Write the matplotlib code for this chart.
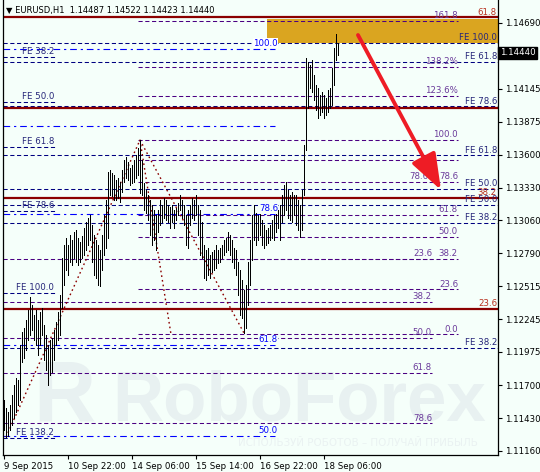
import matplotlib
matplotlib.use("Agg")
import matplotlib.pyplot as plt
from matplotlib.transforms import blended_transform_factory
from matplotlib.patches import Rectangle

# H1 bars, 9 Sep 2015 14:00 onwards (high / low)
highs = [1.11577, 1.11511, 1.11478, 1.11536, 1.11618, 1.11701, 1.11758, 1.11742, 1.12031, 1.12138,
         1.12171, 1.12237, 1.12319, 1.12427, 1.12361, 1.12278, 1.12319, 1.12237, 1.12303, 1.12336,
         1.12196, 1.12113, 1.12031, 1.12072, 1.12088, 1.12154, 1.12220, 1.12303, 1.12443, 1.12748,
         1.12856, 1.12913, 1.12856, 1.12938, 1.12897, 1.12963, 1.12979, 1.12913, 1.12880, 1.12930,
         1.12996, 1.13045, 1.13078, 1.13103, 1.13021, 1.12938, 1.12897, 1.12856, 1.12814, 1.12938,
         1.13103, 1.13227, 1.13458, 1.13474, 1.13450, 1.13433, 1.13392, 1.13408, 1.13375, 1.13474,
         1.13557, 1.13582, 1.13540, 1.13491, 1.13516, 1.13557, 1.13598, 1.13656, 1.13722, 1.13557,
         1.13367, 1.13309, 1.13268, 1.13227, 1.13186, 1.13144, 1.13103, 1.13144, 1.13227, 1.13186,
         1.13243, 1.13227, 1.13186, 1.13169, 1.13186, 1.13144, 1.13161, 1.13202, 1.13268, 1.13227,
         1.13186, 1.13103, 1.13144, 1.13186, 1.13243, 1.13227, 1.13268, 1.13186, 1.13144, 1.13045,
         1.12856, 1.12814, 1.12831, 1.12773, 1.12798, 1.12814, 1.12856, 1.12814, 1.12831, 1.12856,
         1.12897, 1.12913, 1.12963, 1.12938, 1.12897, 1.12831, 1.12814, 1.12715, 1.12649, 1.12567,
         1.12484, 1.12526, 1.12715, 1.12897, 1.13103, 1.13186, 1.13120, 1.13103, 1.13128, 1.13062,
         1.13021, 1.12979, 1.12996, 1.13021, 1.13062, 1.13103, 1.13128, 1.13144, 1.13186, 1.13268,
         1.13351, 1.13375, 1.13309, 1.13268, 1.13293, 1.13268, 1.13268, 1.13227, 1.13186, 1.13309,
         1.13681, 1.14398, 1.14365, 1.14341, 1.14382, 1.14258, 1.14176, 1.14151, 1.14093, 1.14118,
         1.14093, 1.14068, 1.14134, 1.14151, 1.14316, 1.14481, 1.14597, 1.14522]
lows = [1.11329, 1.11272, 1.11280, 1.11329, 1.11371, 1.11428, 1.11478, 1.11536, 1.11577, 1.11890,
        1.11923, 1.11989, 1.12072, 1.12113, 1.12154, 1.12072, 1.12031, 1.11948, 1.12031, 1.12113,
        1.11907, 1.11824, 1.11701, 1.11783, 1.11808, 1.11907, 1.12031, 1.12072, 1.12113, 1.12336,
        1.12526, 1.12649, 1.12608, 1.12715, 1.12691, 1.12748, 1.12715, 1.12691, 1.12715, 1.12748,
        1.12773, 1.12814, 1.12856, 1.12897, 1.12715, 1.12608, 1.12583, 1.12526, 1.12517, 1.12649,
        1.12773, 1.12831, 1.12913, 1.13268, 1.13260, 1.13227, 1.13227, 1.13243, 1.13210, 1.13293,
        1.13375, 1.13408, 1.13392, 1.13351, 1.13367, 1.13375, 1.13408, 1.13433, 1.13285, 1.13268,
        1.13144, 1.13120, 1.13062, 1.12938, 1.12856, 1.12897, 1.12814, 1.12963, 1.13021, 1.13045,
        1.13078, 1.13062, 1.13045, 1.12996, 1.13045, 1.12996, 1.13062, 1.13103, 1.13144, 1.13078,
        1.13021, 1.12856, 1.12831, 1.13021, 1.13078, 1.13062, 1.13103, 1.12938, 1.12773, 1.12748,
        1.12583, 1.12567, 1.12608, 1.12583, 1.12633, 1.12649, 1.12666, 1.12707, 1.12715, 1.12748,
        1.12773, 1.12798, 1.12814, 1.12773, 1.12715, 1.12666, 1.12608, 1.12443, 1.12278, 1.12253,
        1.12130, 1.12171, 1.12361, 1.12526, 1.12732, 1.12897, 1.12856, 1.12897, 1.12938, 1.12856,
        1.12831, 1.12856, 1.12872, 1.12897, 1.12913, 1.12897, 1.12963, 1.12996, 1.12897, 1.13045,
        1.13103, 1.13144, 1.13078, 1.13062, 1.13045, 1.13103, 1.13021, 1.12979, 1.12922, 1.12979,
        1.13268, 1.13639, 1.13986, 1.14151, 1.14118, 1.14052, 1.13969, 1.13903, 1.13928, 1.13953,
        1.13903, 1.13928, 1.13953, 1.13986, 1.14011, 1.14176, 1.14382, 1.14423]

title_text = "EURUSD,H1  1.14487 1.14522 1.14423 1.14440"
last_price = 1.14440

x_tick_labels = ["9 Sep 2015", "10 Sep 22:00", "14 Sep 06:00", "15 Sep 14:00",
                 "16 Sep 22:00", "18 Sep 06:00"]
y_ticks = [1.14690, 1.14145, 1.13875, 1.13600, 1.13330, 1.13060, 1.12790,
           1.12515, 1.12245, 1.11975, 1.11700, 1.11430, 1.11160]

# fibonacci objects drawn on the chart
fe_left_labels = ["FE 38.2", "FE 50.0", "FE 61.8", "FE 78.6", "FE 100.0", "FE 138.2"]
fe_left_prices = [1.14410, 1.14034, 1.13665, 1.13137, 1.12461, 1.11265]

fe_right_labels = ["FE 100.0", "FE 61.8", "FE 78.6", "FE 61.8", "FE 50.0", "FE 50.0", "FE 38.2", "FE 38.2"]
fe_right_prices = [1.14520, 1.14363, 1.13999, 1.13596, 1.13316, 1.13187, 1.13041, 1.12007]

red_labels = ["61.8", "", "38.2", "23.6"]
red_prices = [1.14733, 1.13987, 1.13247, 1.12331]

purple_labels = ["161.8", "138.2%", "123.6%", "100.0", "", "78.6", "61.8", "50.0", "38.2", "23.6", "0.0"]
purple_prices = [1.14706, 1.14327, 1.14088, 1.13723, 1.13558, 1.13379, 1.13104, 1.12920, 1.12739, 1.12491, 1.12120]

lower_labels = ["23.6", "38.2", "50.0", "61.8", "78.6"]
lower_prices = [1.12741, 1.12387, 1.12090, 1.11804, 1.11386]

blue_labels = ["100.0", "", "78.6", "61.8", "50.0"]
blue_prices = [1.14476, 1.13838, 1.13112, 1.12032, 1.11281]

target_zone = (1.14520, 1.14718)

BG = "#F5FFFA"
NAVY = "#000080"
PURPLE = "#4B0082"
PURPLE_TXT = "#6A3A9A"
BLUE = "#0000FF"
DARKRED = "#8B0000"
FS = 6.2

plt.rcParams["font.family"] = ["DejaVu Sans"]

fig = plt.figure(figsize=(5.4, 4.72), dpi=100, facecolor=BG)
ax = fig.add_axes([3 / 540, 17 / 472, 495 / 540, 455 / 472], facecolor=BG)
ax.set_xlim(-0.5, 247.0)
ax.set_ylim(1.11125, 1.14877)

# watermark
WM = "#E8F1F1"
ax.text(54, 1.11413, "RoboForex", family="Liberation Sans", weight="bold", fontsize=51,
        color=WM, ha="left", va="baseline", zorder=0.5)
ax.text(14.5, 1.11413, "R", family="Liberation Sans", weight="bold", fontsize=62,
        color=WM, ha="left", va="baseline", zorder=0.5)
ax.text(117, 1.11224, "ИСПОЛЬЗУЙ РОБОТОВ – ПОЛУЧАЙ ПРИБЫЛЬ", fontsize=7.4,
        color="#EAF2F2", ha="left", va="center", zorder=0.5)

x0, x1 = ax.get_xlim()
dash = (0, (4, 2.5))
dashdot = (0, (6, 3.5, 2, 3.5))


def level(price, xa, xb, color, ls, lw, label="", lx=None, ha="right", tcolor=None,
          bg=None, z=2):
    ax.hlines(price, xa, xb, colors=color, linestyles=ls, linewidth=lw, zorder=z)
    if label:
        t = ax.annotate(label, (xb if lx is None else lx, price), xytext=(0, 0.6),
                        textcoords="offset points", ha=ha, va="bottom", fontsize=FS,
                        color=tcolor or color, zorder=z + 2)
        if bg:
            t.set_bbox(dict(facecolor=bg, edgecolor="none", pad=0.3))


for lab, p in zip(purple_labels, purple_prices):
    level(p, 67, 227, PURPLE, dash, 0.75, lab, tcolor=PURPLE_TXT)
for lab, p in zip(lower_labels, lower_prices):
    level(p, x0, 214, PURPLE, dash, 0.75, lab, tcolor=PURPLE_TXT)
ax.annotate("78.6", (212, purple_prices[5]), xytext=(0, 0.6), textcoords="offset points",
            ha="right", va="bottom", fontsize=FS, color=PURPLE_TXT, zorder=4)
for lab, p in zip(blue_labels, blue_prices):
    level(p, x0, 135.5, BLUE, dashdot, 0.8, lab, lx=137,
          bg=BG if lab != "100.0" else "white")
for lab, p in zip(fe_left_labels, fe_left_prices):
    level(p, x0, 25.5, NAVY, dash, 0.75, lab, lx=25, tcolor="#26267A")
for lab, p in zip(fe_right_labels, fe_right_prices):
    level(p, x0, x1, NAVY, dash, 0.75, lab, lx=246.5, tcolor="#26267A")
for lab, p in zip(red_labels, red_prices):
    level(p, x0, x1, DARKRED, "solid", 1.6, lab, lx=246.5, tcolor="#B8301E", z=2.5)

# target zone
ax.add_patch(Rectangle((131.5, target_zone[0]), x1 - 131.5, target_zone[1] - target_zone[0],
                       facecolor="#DAA520", edgecolor="none", zorder=1.8))

# zigzag dotted lines between swing points
ax.plot([1, 68, 120], [lows[1], highs[68], lows[120]], color=DARKRED, lw=1.0,
        ls=(0, (1.2, 2.2)), zorder=2.6)
ax.plot([68, 83.5], [highs[68], purple_prices[-1]], color=DARKRED, lw=1.0,
        ls=(0, (1.2, 2.2)), zorder=2.6)

# bars
bars = range(len(highs))
ax.vlines(bars, lows, highs, colors="black", linewidth=0.55, antialiased=False, zorder=3)

# forecast arrow
ax.annotate("", xy=(218.5, 1.13310), xytext=(177, 1.14588),
            arrowprops=dict(arrowstyle="-|>,head_length=2.2,head_width=0.8",
                            color="#EE1C25", lw=2.8, shrinkA=0, shrinkB=0), zorder=6)

# axes styling
for side in ["left", "bottom", "right"]:
    ax.spines[side].set_color("black")
    ax.spines[side].set_linewidth(0.9)
ax.spines["top"].set_visible(False)
ax.yaxis.tick_right()
ax.set_yticks(y_ticks)
ax.set_yticklabels([f"{v:.5f}" for v in y_ticks])
ax.set_xticks([32 * i for i in range(len(x_tick_labels))])
ax.set_xticklabels(x_tick_labels, ha="left")
ax.tick_params(axis="both", length=3, width=0.8, color="black", labelsize=FS,
               labelcolor="black", pad=2)

tr = blended_transform_factory(ax.transAxes, ax.transData)
ax.text(1.004, last_price, f"{last_price:.5f}", transform=tr, ha="left", va="center",
        fontsize=FS, color="white", zorder=7,
        bbox=dict(facecolor="black", edgecolor="black", pad=1.2), clip_on=False)

ax.text(0.006, 0.978, "\u25bc " + title_text, transform=ax.transAxes, ha="left",
        va="center", fontsize=6.0, color="black", zorder=7)

fig.savefig("out.png", dpi=100, facecolor=BG)
